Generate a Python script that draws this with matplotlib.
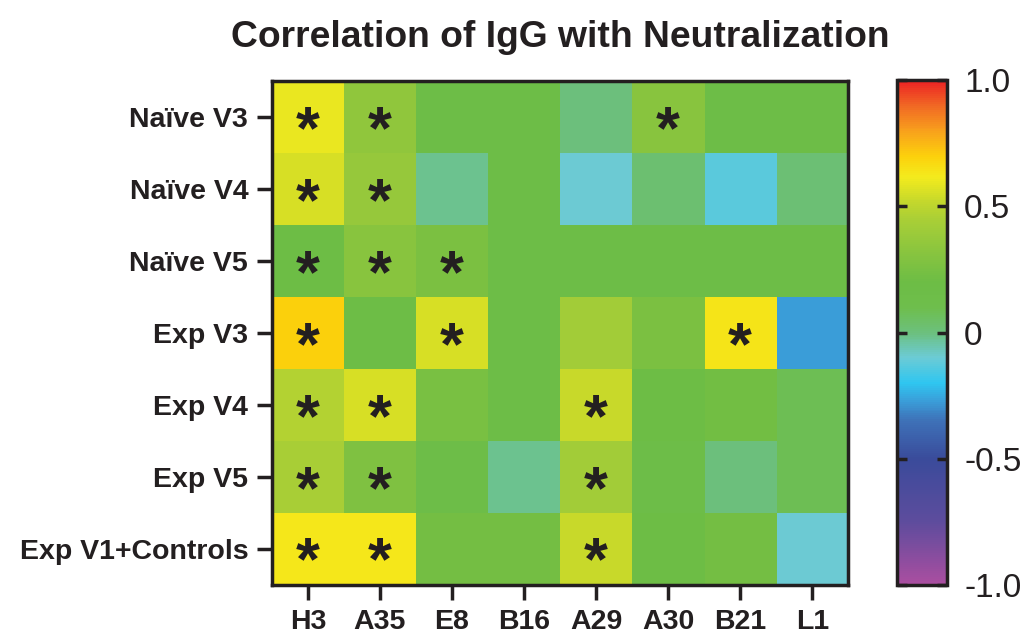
import numpy as np
import matplotlib
matplotlib.use("Agg")
import matplotlib.pyplot as plt
from matplotlib.colors import LinearSegmentedColormap

plt.rcParams['font.family'] = ['Liberation Sans', 'DejaVu Sans']

groups = ["Naïve V3", "Naïve V4", "Naïve V5", "Exp V3", "Exp V4", "Exp V5", "Exp V1+Controls"]
antigens = ["H3", "A35", "E8", "B16", "A29", "A30", "B21", "L1"]

# correlation values
corr = np.array([
    [0.60, 0.35, 0.17, 0.17, 0.00, 0.32, 0.17, 0.17],
    [0.56, 0.37, -0.02, 0.17, -0.10, 0.03, -0.13, 0.02],
    [0.19, 0.32, 0.26, 0.17, 0.16, 0.16, 0.17, 0.17],
    [0.70, 0.18, 0.56, 0.17, 0.42, 0.26, 0.64, -0.27],
    [0.47, 0.56, 0.25, 0.17, 0.53, 0.20, 0.22, 0.08],
    [0.44, 0.28, 0.15, -0.02, 0.42, 0.15, 0.00, 0.08],
    [0.63, 0.63, 0.23, 0.23, 0.53, 0.19, 0.23, -0.10],
])

# significant cells (*)
signif = np.array([
    [1, 1, 0, 0, 0, 1, 0, 0],
    [1, 1, 0, 0, 0, 0, 0, 0],
    [1, 1, 1, 0, 0, 0, 0, 0],
    [1, 0, 1, 0, 0, 0, 1, 0],
    [1, 1, 0, 0, 1, 0, 0, 0],
    [1, 1, 0, 0, 1, 0, 0, 0],
    [1, 1, 0, 0, 1, 0, 0, 0],
])

anchors = [
    (-1.00, "#AA4EA0"), (-0.75, "#5D4C9D"), (-0.50, "#3A4B9B"),
    (-0.35, "#3E72B8"), (-0.27, "#3A9ED9"), (-0.20, "#2FC6F0"),
    (-0.10, "#6CCBD5"), (0.00, "#6CC07E"), (0.10, "#6EBE4C"),
    (0.20, "#6DBD45"), (0.30, "#84C340"), (0.45, "#AACF36"),
    (0.52, "#C4D82C"), (0.62, "#F4EB1D"), (0.70, "#FCD10C"),
    (0.80, "#F8A11C"), (0.90, "#F16A24"), (1.00, "#EC2224"),
]
cmap = LinearSegmentedColormap.from_list(
    "corr", [((v + 1) / 2, c) for v, c in anchors])

ink = '#231f20'

fig = plt.figure(figsize=(10.22, 6.39), dpi=100)
ax = fig.add_axes([0.266, 0.0845, 0.564, 0.788])
cax = fig.add_axes([0.878, 0.0845, 0.049, 0.79])

im = ax.imshow(corr, cmap=cmap, vmin=-1, vmax=1, aspect='auto',
               interpolation='nearest')

for i in range(len(groups)):
    for j in range(len(antigens)):
        if signif[i, j]:
            ax.text(j, i + 0.21, "*", ha='center', va='center',
                    fontsize=44, fontweight='bold', color=ink)

ax.set_xticks(np.arange(len(antigens)), antigens)
ax.set_yticks(np.arange(len(groups)), groups)
ax.tick_params(length=11, width=2.5, color=ink, labelsize=20.5,
               pad=6, labelcolor=ink)
for lab in ax.get_xticklabels() + ax.get_yticklabels():
    lab.set_fontweight('bold')
for s in ax.spines.values():
    s.set_linewidth(2.5)
    s.set_color(ink)
ax.set_title("Correlation of IgG with Neutralization", fontsize=26.8,
             fontweight='bold', color=ink, pad=25)

cb = fig.colorbar(im, cax=cax, ticks=[-1, -0.5, 0, 0.5, 1])
cb.set_ticklabels(["-1.0", "-0.5", "0", "0.5", "1.0"])
cax.tick_params(direction='in', length=7, width=2.5, color=ink,
                left=True, right=True, labelleft=False, labelright=True,
                labelsize=24, pad=12, labelcolor=ink)
cb.outline.set_linewidth(2.5)
cb.outline.set_edgecolor(ink)

fig.savefig("out.png", dpi=100)
